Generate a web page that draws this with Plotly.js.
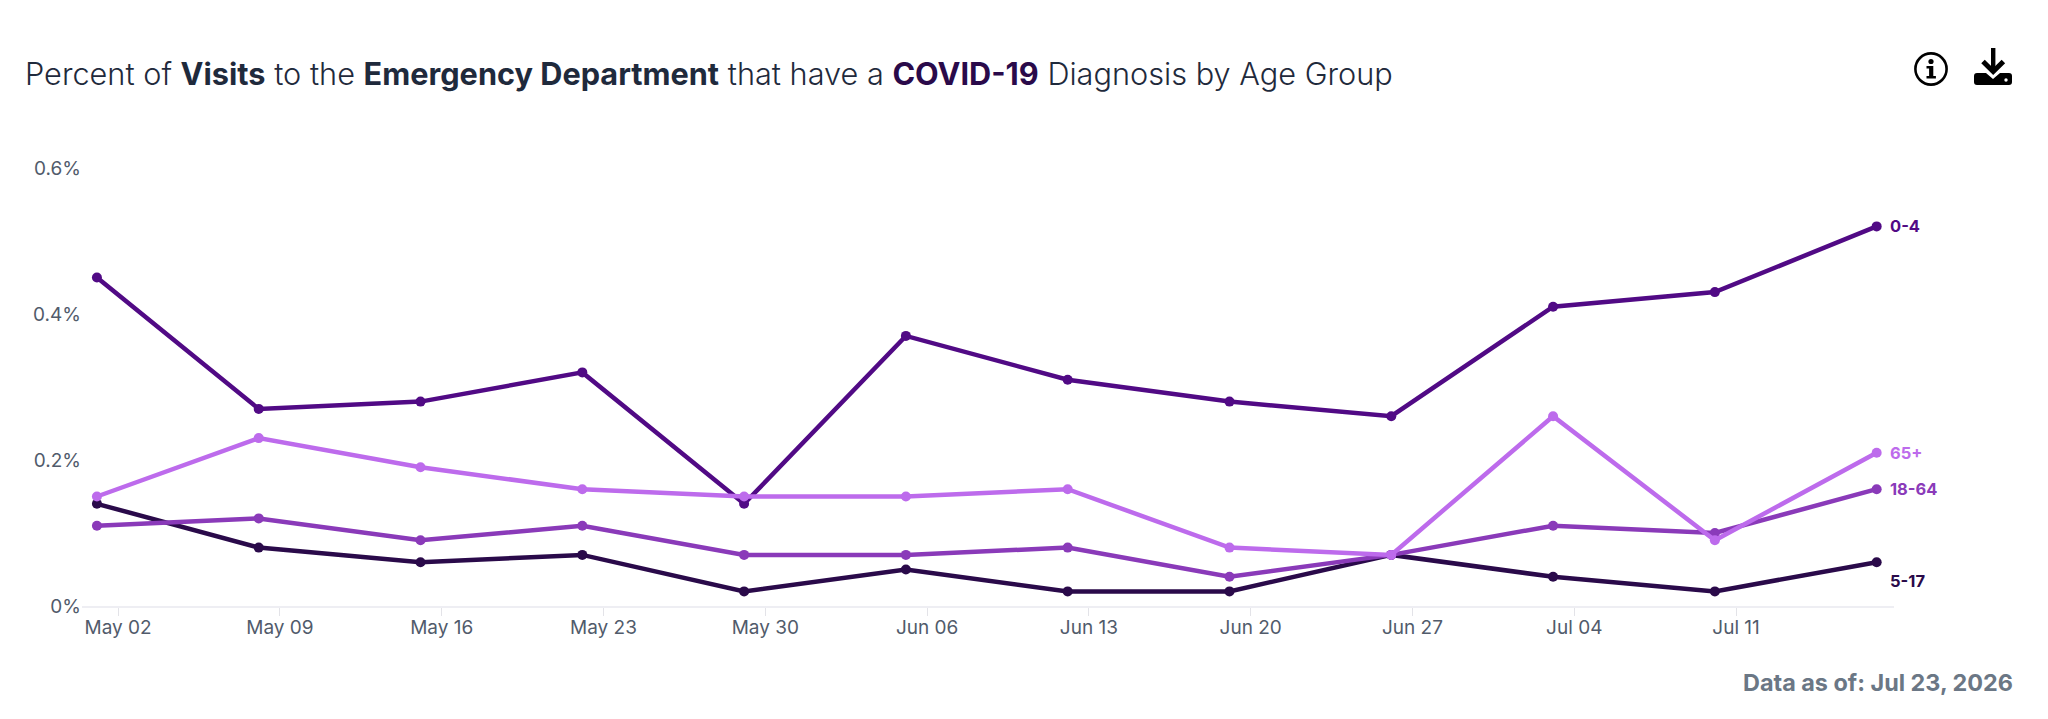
<!DOCTYPE html>
<html>
<head>
<meta charset="utf-8">
<script src="https://cdn.plot.ly/plotly-3.0.1.min.js"></script>
<style>
  html, body { margin: 0; padding: 0; background: #fff; }
  #myDiv { width: 2048px; height: 719px; }
</style>
</head>
<body>
<div id="myDiv"></div>
<script>
// semanas (o ponto fica um pouco antes do tick no original)
let semanas = ["2026-05-01 02:00", "2026-05-08 02:00", "2026-05-15 02:00", "2026-05-22 02:00", "2026-05-29 02:00", "2026-06-05 02:00",
  "2026-06-12 02:00", "2026-06-19 02:00", "2026-06-26 02:00", "2026-07-03 02:00", "2026-07-10 02:00", "2026-07-17 02:00"];

let idade_0_4 = [0.45, 0.27, 0.28, 0.32, 0.14, 0.37, 0.31, 0.28, 0.26, 0.41, 0.43, 0.52];
let idade_5_17 = [0.14, 0.08, 0.06, 0.07, 0.02, 0.05, 0.02, 0.02, 0.07, 0.04, 0.02, 0.06];
let idade_18_64 = [0.11, 0.12, 0.09, 0.11, 0.07, 0.07, 0.08, 0.04, 0.07, 0.11, 0.10, 0.16];
let idade_65 = [0.15, 0.23, 0.19, 0.16, 0.15, 0.15, 0.16, 0.08, 0.07, 0.26, 0.09, 0.21];

let grupos = ["0-4", "5-17", "18-64", "65+"];
let valores = [idade_0_4, idade_5_17, idade_18_64, idade_65];
let cores = ["#510a85", "#2a0a4a", "#8a3ab9", "#bd6bec"];
let deslocY = [0, -19, 0, 0];

let fonte = "Inter, 'Liberation Sans', sans-serif";

let iconeInfo = "data:image/svg+xml;utf8," + encodeURIComponent(
  '<svg xmlns="http://www.w3.org/2000/svg" viewBox="0 0 34 34">' +
  '<circle cx="17" cy="17" r="15.6" fill="none" stroke="#000" stroke-width="2.6"/>' +
  '<circle cx="17" cy="9.5" r="2.6" fill="#000"/>' +
  '<path d="M12.5 14h6.8v10h2.6v2.6h-9.4V24h2.6v-7.4h-2.6z" fill="#000"/></svg>');
let iconeDownload = "data:image/svg+xml;utf8," + encodeURIComponent(
  '<svg xmlns="http://www.w3.org/2000/svg" viewBox="0 0 38 37">' +
  '<rect x="17" y="0" width="4.4" height="22" fill="#000"/>' +
  '<path d="M9 13.5 L19.2 23.5 L29.4 13.5" fill="none" stroke="#000" stroke-width="5"/>' +
  '<path d="M3 25h9l7 6 7-6h9a3 3 0 0 1 3 3v6a3 3 0 0 1-3 3H3a3 3 0 0 1-3-3v-6a3 3 0 0 1 3-3z" fill="#000"/>' +
  '<circle cx="32" cy="32" r="1.7" fill="#fff"/></svg>');

function desenharGrafico() {
  let data = [];
  let anotacoes = [];

  grupos.forEach((nome, i) => {
    data.push({
      x: semanas,
      y: valores[i],
      name: nome,
      type: "scatter",
      mode: "lines+markers",
      line: { color: cores[i], width: 4.5 },
      marker: { color: cores[i], size: 10 },
      hoverinfo: "x+y+name"
    });
    anotacoes.push({
      x: semanas[semanas.length - 1],
      y: valores[i][valores[i].length - 1],
      xref: "x",
      yref: "y",
      text: "<b>" + nome + "</b>",
      showarrow: false,
      xanchor: "left",
      xshift: 11,
      yshift: deslocY[i],
      font: { family: fonte, size: 16.5, color: cores[i] }
    });
  });

  anotacoes.push({
    xref: "paper",
    yref: "paper",
    x: 1.0,
    y: 0,
    xanchor: "right",
    yanchor: "top",
    xshift: 121,
    yshift: -60,
    text: "<b>Data as of: Jul 23, 2026</b>",
    showarrow: false,
    font: { family: fonte, size: 23.4, color: "#6b7785" }
  });

  let layout = {
    width: 2048,
    height: 719,
    margin: { l: 82, r: 154, t: 168, b: 113 },
    paper_bgcolor: "#fff",
    plot_bgcolor: "#fff",
    showlegend: false,
    font: { family: fonte },
    title: {
      text: "Percent of <b>Visits</b> to the <b>Emergency Department</b> that have a <b><span style=\"color:#2a0a4a\">COVID-19</span></b> Diagnosis by Age Group",
      font: { family: fonte, size: 30.7, color: "#1f2a3c", weight: 300 },
      x: 25 / 2048,
      xanchor: "left",
      y: 1 - 74 / 719,
      yanchor: "middle"
    },
    xaxis: {
      type: "date",
      range: ["2026-04-30 10:30", "2026-07-17 20:00"],
      tick0: "2026-05-02",
      dtick: 7 * 24 * 60 * 60 * 1000,
      tickformat: "%b %d",
      showgrid: false,
      zeroline: false,
      showline: true,
      linecolor: "#eeeef3",
      linewidth: 2,
      ticks: "outside",
      ticklen: 8,
      tickwidth: 1,
      tickcolor: "#e3e3e8",
      ticklabelstandoff: -5,
      tickfont: { family: fonte, size: 19, color: "#515b6b" }
    },
    yaxis: {
      range: [0, 0.6],
      tick0: 0,
      dtick: 0.2,
      ticksuffix: "%",
      showgrid: false,
      zeroline: false,
      showline: false,
      ticks: "",
      tickfont: { family: fonte, size: 19, color: "#515b6b" }
    },
    annotations: anotacoes,
    images: [
      { source: iconeInfo, xref: "paper", yref: "paper", x: (1914 - 82) / 1812, y: 1 + (168 - 52) / 438, sizex: 34 / 1812, sizey: 34 / 438, xanchor: "left", yanchor: "top", sizing: "stretch" },
      { source: iconeDownload, xref: "paper", yref: "paper", x: (1974 - 82) / 1812, y: 1 + (168 - 48) / 438, sizex: 38 / 1812, sizey: 37 / 438, xanchor: "left", yanchor: "top", sizing: "stretch" }
    ]
  };

  Plotly.newPlot("myDiv", data, layout, { displayModeBar: false });
}

desenharGrafico();
</script>
</body>
</html>
